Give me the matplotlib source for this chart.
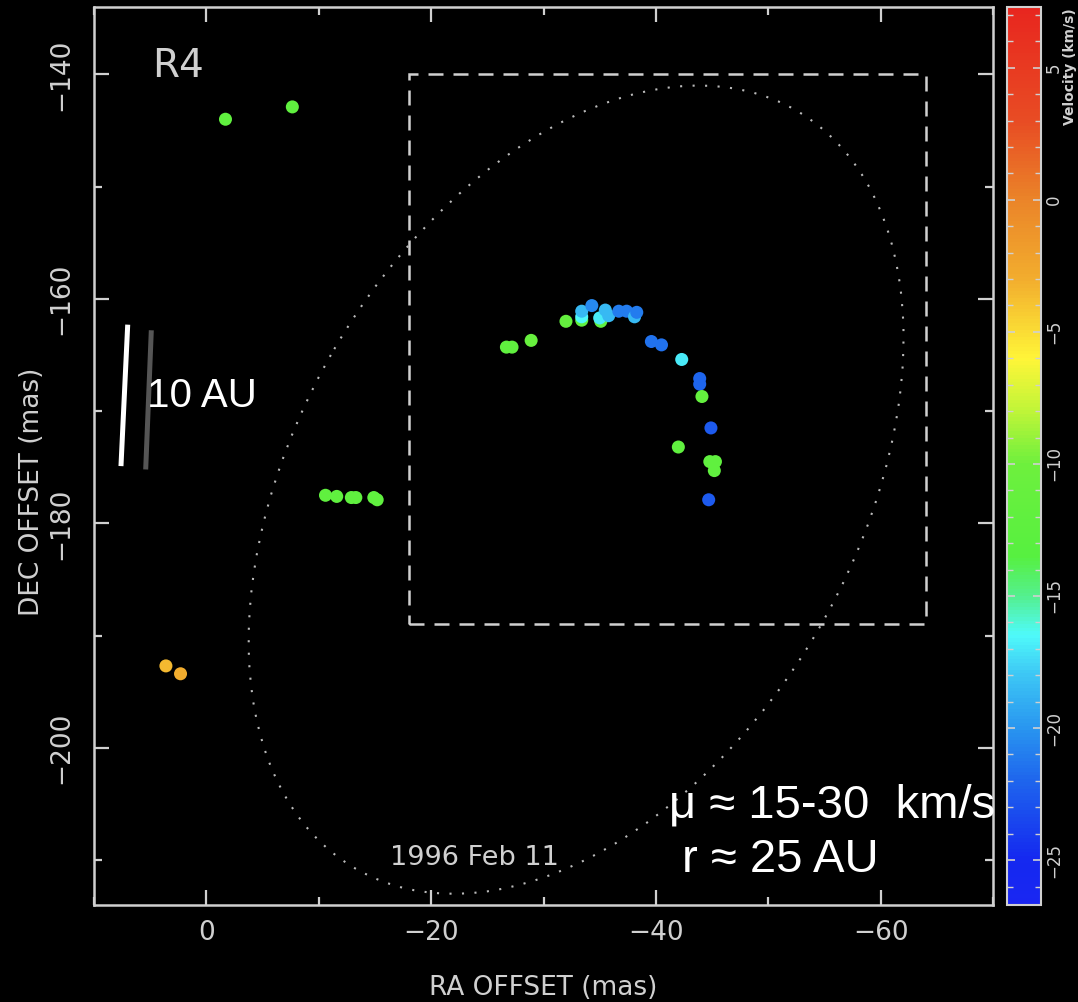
import numpy as np
import matplotlib.pyplot as plt
from matplotlib.colors import LinearSegmentedColormap
from matplotlib.patches import Ellipse, Rectangle
from matplotlib.ticker import MultipleLocator

# maser spots: RA offset (mas), DEC offset (mas), velocity (km/s)
ra = [-1.7, -7.65,
      -26.7, -27.2, -28.9, -32.0,
      -33.4, -33.4, -33.4, -34.3, -35.1, -35.0, -35.5, -35.8,
      -36.7, -37.4, -38.1, -38.3, -39.6, -40.5, -42.3,
      -43.9, -43.9, -44.1, -44.9, -42.0, -44.8, -45.3, -45.2, -44.7,
      -10.6, -11.6, -12.9, -13.3, -14.9, -15.2,
      3.6, 2.3]
dec = [-144.0, -142.9,
       -164.3, -164.3, -163.7, -162.0,
       -161.9, -161.6, -161.1, -160.6, -162.0, -161.7, -161.0, -161.5,
       -161.1, -161.1, -161.6, -161.2, -163.8, -164.1, -165.4,
       -167.1, -167.6, -168.7, -171.5, -173.2, -174.5, -174.5, -175.3, -177.9,
       -177.5, -177.6, -177.7, -177.7, -177.7, -177.9,
       -192.7, -193.4]
vel = [-12, -12,
       -12, -12, -11, -11.5,
       -12, -16.5, -18.5, -20.5, -12, -17, -18.5, -18.5,
       -21, -21, -18.5, -21, -21.5, -21.5, -17,
       -22, -22, -11.5, -22.5, -12, -12, -12, -12, -22.5,
       -12, -12, -12, -12, -12, -12,
       -3.5, -3]

vmin, vmax = -26.7, 7.3

# colour table
cb_vel = [-26.7, -25, -22, -20, -18, -16.5, -15, -13.5, -10, -8, -6, -3, 0, 3, 7.3]
cb_rgb = [(0.10, 0.15, 0.95), (0.08, 0.16, 0.94), (0.12, 0.40, 0.93), (0.16, 0.59, 0.94),
          (0.24, 0.78, 0.96), (0.31, 0.98, 0.98), (0.33, 0.94, 0.55), (0.34, 0.94, 0.25),
          (0.43, 0.94, 0.24), (0.75, 0.96, 0.22), (1.00, 0.96, 0.22), (0.95, 0.68, 0.18),
          (0.92, 0.52, 0.16), (0.91, 0.30, 0.14), (0.91, 0.15, 0.12)]
cmap = LinearSegmentedColormap.from_list(
    'wedge', [((v - vmin) / (vmax - vmin), c) for v, c in zip(cb_vel, cb_rgb)])

# overlays
box = (-18, -189, -64, -140)  # x0, y0, x1, y1
ell_center, ell_w, ell_h, ell_angle = (-32.9, -177.0), 78.1, 49.8, 120.2
bar_white = ([7.0, 7.6], [-162.3, -174.9])
bar_gray = ([4.9, 5.4], [-162.8, -175.2])

fg = '#d0d0d0'

fig = plt.figure(figsize=(10.78, 10.02), dpi=100, facecolor='black')
ax = fig.add_axes([94 / 1078, 1 - 905 / 1002, 899 / 1078, 898 / 1002])
ax.set_facecolor('black')

ax.add_patch(Rectangle((box[0], box[1]), box[2] - box[0], box[3] - box[1],
                       fill=False, ec=fg, lw=1.8, ls=(0, (6, 4))))
ax.add_patch(Ellipse(ell_center, ell_w, ell_h, angle=ell_angle, fill=False,
                     ec='#bbbbbb', lw=1.5, ls=(0, (1, 5))))

sc = ax.scatter(ra, dec, c=vel, cmap=cmap, vmin=vmin, vmax=vmax, s=88,
                edgecolors='none', zorder=3)

ax.plot(*bar_white, color='white', lw=3.6, solid_capstyle='butt')
ax.plot(*bar_gray, color='#555555', lw=3.6, solid_capstyle='butt')

ax.set_xlim(10, -70)
ax.set_ylim(-214, -134)

ax.xaxis.set_major_locator(MultipleLocator(20))
ax.xaxis.set_minor_locator(MultipleLocator(10))
ax.yaxis.set_major_locator(MultipleLocator(20))
ax.yaxis.set_minor_locator(MultipleLocator(10))
ax.tick_params(which='both', direction='in', colors=fg, top=True, right=True,
               width=1.6, labelsize=19)
ax.tick_params(which='major', length=11)
ax.tick_params(which='minor', length=6)
ax.tick_params(axis='x', pad=11)
ax.tick_params(axis='y', pad=14, labelrotation=90)
for lab in ax.get_yticklabels():
    lab.set_va('center')
for sp in ax.spines.values():
    sp.set_color(fg)
    sp.set_linewidth(1.8)

ax.set_xlabel('RA OFFSET (mas)', color=fg, fontsize=19)
ax.xaxis.set_label_coords(0.5, -0.078)
ax.set_ylabel('DEC OFFSET (mas)', color=fg, fontsize=19)
ax.yaxis.set_label_coords(-0.055, 0.46)

ax.text(4.8, -140.2, 'R4', color=fg, fontsize=28)
ax.text(-16.3, -210.4, '1996 Feb 11', color=fg, fontsize=19.5)

ax.text(5.3, -169.6, '10 AU', color='white', fontsize=29, family='Liberation Sans')
ax.text(-41.2, -206.2, 'μ ≈ 15-30  km/s', color='white', fontsize=34,
        family='Liberation Sans')
ax.text(-42.3, -211.1, 'r ≈ 25 AU', color='white', fontsize=34,
        family='Liberation Sans')

# velocity wedge
cax = fig.add_axes([1007 / 1078, 1 - 905 / 1002, 34 / 1078, 898 / 1002])
cb = fig.colorbar(sc, cax=cax)
cb.set_ticks([5, 0, -5, -10, -15, -20, -25])
cb.ax.yaxis.set_minor_locator(MultipleLocator(1))
cb.outline.set_edgecolor(fg)
cb.outline.set_linewidth(1.5)
cax.tick_params(which='both', direction='in', colors=fg, left=True, right=True,
                labelleft=False, labelright=True, labelsize=12, labelrotation=90,
                pad=3)
cax.tick_params(which='major', length=6, width=1.2)
cax.tick_params(which='minor', length=4, width=1.0)
for lab in cax.get_yticklabels():
    lab.set_va('center')
fig.text(1070 / 1078, 1 - 8 / 1002, 'Velocity (km/s)', color=fg, fontsize=10,
         rotation=90, ha='center', va='top', fontweight='bold')

fig.savefig('out.png', dpi=100, facecolor='black')
